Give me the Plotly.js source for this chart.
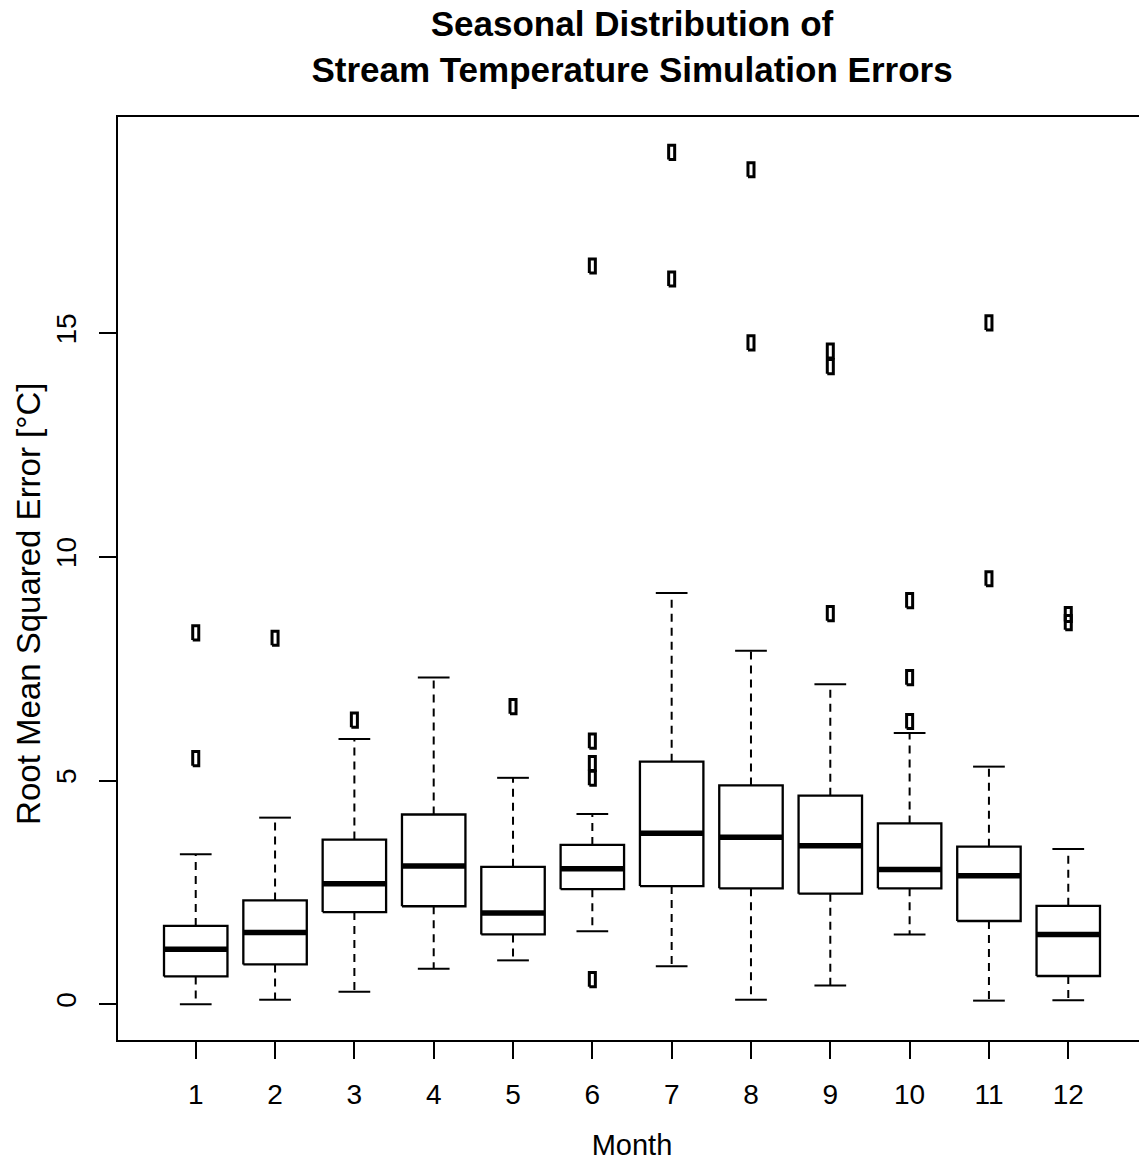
<!DOCTYPE html>
<html>
<head>
<meta charset="utf-8">
<script src="https://cdn.plot.ly/plotly-3.0.1.min.js"></script>
<style>
html, body { margin:0; padding:0; overflow:hidden; background:#fff; }
#chart { width:1147px; height:1163px; }
</style>
</head>
<body>
<div id="chart"></div>
<script>
// ---- data ----
const months   = [1, 2, 3, 4, 5, 6, 7, 8, 9, 10, 11, 12];
const tickText = ["1","2","3","4","5","6","7","8","9","10","11","12"];
const lowerWhisker = [0.00, 0.10, 0.28, 0.79, 0.98, 1.63, 0.85, 0.10, 0.42, 1.56, 0.08, 0.09];
const q1           = [0.62, 0.89, 2.06, 2.19, 1.56, 2.57, 2.64, 2.59, 2.47, 2.59, 1.86, 0.63];
const medians      = [1.23, 1.60, 2.69, 3.09, 2.04, 3.03, 3.82, 3.73, 3.54, 3.01, 2.87, 1.56];
const q3           = [1.75, 2.32, 3.68, 4.24, 3.07, 3.56, 5.42, 4.89, 4.66, 4.04, 3.52, 2.20];
const upperWhisker = [3.35, 4.17, 5.93, 7.30, 5.06, 4.25, 9.19, 7.90, 7.15, 6.06, 5.31, 3.47];
const outlierMonth = [1, 1, 2, 3, 5, 6, 6, 6, 6, 6, 7, 7, 8, 8, 9, 9, 9, 10, 10, 10, 11, 11, 12, 12];
const outlierValue = [8.30, 5.49, 8.18, 6.35, 6.65, 16.50, 5.88, 5.38, 5.05, 0.55, 19.04, 16.21,
                      18.65, 14.78, 14.60, 14.25, 8.73, 9.02, 7.30, 6.32, 15.23, 9.51, 8.71, 8.53];

// ---- style constants ----
const BOX_HALF = 0.4, STAPLE_HALF = 0.2;
const OUT_HALF_W = 0.038, OUT_HALF_H = 0.158;
const FONT = "Liberation Sans, Arial, Helvetica, sans-serif";

// ---- build geometry from data ----
const wx = [], wy = [], sx = [], sy = [], bx = [], by = [], mx = [], my = [];
months.forEach((m, i) => {
  wx.push(m, m, null, m, m, null);
  wy.push(q3[i], upperWhisker[i], null, q1[i], lowerWhisker[i], null);
  sx.push(m - STAPLE_HALF, m + STAPLE_HALF, null, m - STAPLE_HALF, m + STAPLE_HALF, null);
  sy.push(upperWhisker[i], upperWhisker[i], null, lowerWhisker[i], lowerWhisker[i], null);
  bx.push(m - BOX_HALF, m + BOX_HALF, m + BOX_HALF, m - BOX_HALF, m - BOX_HALF, null);
  by.push(q1[i], q1[i], q3[i], q3[i], q1[i], null);
  mx.push(m - BOX_HALF, m + BOX_HALF, null);
  my.push(medians[i], medians[i], null);
});
const ox = [], oy = [];
outlierMonth.forEach((m, i) => {
  const v = outlierValue[i];
  ox.push(m - OUT_HALF_W, m + OUT_HALF_W, m + OUT_HALF_W, m - OUT_HALF_W, m - OUT_HALF_W, null);
  oy.push(v - OUT_HALF_H, v - OUT_HALF_H, v + OUT_HALF_H, v + OUT_HALF_H, v - OUT_HALF_H, null);
});

const common = { mode: "lines", hoverinfo: "skip", showlegend: false, connectgaps: false };
const traces = [
  Object.assign({ x: wx, y: wy, line: { color: "#000", width: 2, dash: "8px,6px" } }, common),
  Object.assign({ x: sx, y: sy, line: { color: "#000", width: 2 } }, common),
  Object.assign({ x: bx, y: by, fill: "toself", fillcolor: "#fff", line: { color: "#000", width: 2.3 } }, common),
  Object.assign({ x: mx, y: my, line: { color: "#000", width: 5.5 } }, common),
  Object.assign({ x: ox, y: oy, line: { color: "#000", width: 3 } }, common)
];

const layout = {
  width: 1147, height: 1163,
  margin: { l: 118, r: 1, t: 117, b: 123 },
  paper_bgcolor: "#fff", plot_bgcolor: "#fff",
  font: { family: FONT, color: "#000", size: 28 },
  title: {
    text: "<b>Seasonal Distribution of<br>Stream Temperature Simulation Errors</b>",
    font: { family: FONT, size: 35, color: "#000" },
    x: 0.5, xref: "paper", xanchor: "center",
    y: 0.969, yref: "container", yanchor: "top"
  },
  xaxis: {
    range: [0.02, 12.98],
    tickmode: "array", tickvals: months, ticktext: tickText,
    ticks: "outside", ticklen: 17, tickwidth: 2, tickcolor: "#000",
    ticklabelstandoff: 11,
    showline: true, linecolor: "#000", linewidth: 2, mirror: true,
    showgrid: false, zeroline: false,
    tickfont: { family: FONT, size: 28, color: "#000" },
    title: { text: "Month", font: { family: FONT, size: 29, color: "#000" }, standoff: 26 }
  },
  yaxis: {
    range: [-0.80, 19.83],
    tickmode: "array", tickvals: [0, 5, 10, 15], ticktext: ["0", "5", "10", "15"],
    tickangle: -90,
    ticks: "outside", ticklen: 17, tickwidth: 2, tickcolor: "#000",
    ticklabelstandoff: 12,
    showline: true, linecolor: "#000", linewidth: 2, mirror: true,
    showgrid: false, zeroline: false,
    tickfont: { family: FONT, size: 28, color: "#000" }
  },
  annotations: [{
    text: "Root Mean Squared Error [°C]",
    xref: "paper", yref: "paper", x: -0.087, y: 0.472,
    xanchor: "center", yanchor: "middle", textangle: -90, showarrow: false,
    font: { family: FONT, size: 33, color: "#000" }
  }]
};

Plotly.newPlot("chart", traces, layout, { staticPlot: true, displayModeBar: false });
</script>
</body>
</html>
